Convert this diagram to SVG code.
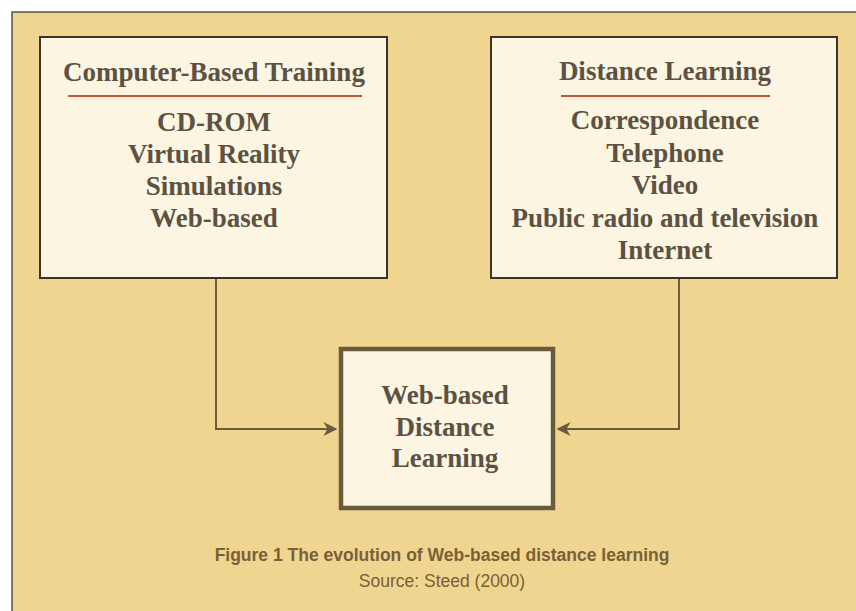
<svg xmlns="http://www.w3.org/2000/svg" width="856" height="611" viewBox="0 0 856 611">
<style>
.box{fill:#fcf5e1;stroke:#3a3328;stroke-width:2}
.ctr{fill:#fcf5e1;stroke:#6b5b3e;stroke-width:4.5}
.t{font-family:"Liberation Serif","Times New Roman",serif;font-weight:bold;font-size:27px;fill:#5b5244;text-anchor:middle}
.rule{stroke:#c0583a;stroke-width:2}
.conn{fill:none;stroke:#6b5b3e;stroke-width:2}
.cap{font-family:"Liberation Sans",Arial,sans-serif;font-size:17.5px;fill:#7a6036;text-anchor:middle}
</style>
<defs>
<marker id="arr" viewBox="0 0 10 10" refX="9" refY="5" markerWidth="7" markerHeight="7" orient="auto">
<path d="M0,0 L10,5 L0,10 L3,5 Z" fill="#6b5b3e"/>
</marker>
</defs>
<rect x="0" y="0" width="856" height="611" fill="#ffffff"/>
<rect x="12" y="12" width="850" height="605" fill="#f0d591" stroke="#55504a" stroke-width="1.5"/>
<g id="connectors">
<path class="conn" d="M216,278 V429 H336" marker-end="url(#arr)"/>
<path class="conn" d="M679,278 V429 H558" marker-end="url(#arr)"/>
</g>
<g id="cbt">
<rect class="box" x="40" y="37" width="347" height="241"/>
<text class="t" x="214" y="81">Computer-Based Training</text>
<line class="rule" x1="68" y1="96" x2="362" y2="96"/>
<text class="t" x="214" y="131">CD-ROM</text>
<text class="t" x="214" y="163">Virtual Reality</text>
<text class="t" x="214" y="195">Simulations</text>
<text class="t" x="214" y="227">Web-based</text>
</g>
<g id="dl">
<rect class="box" x="491" y="37" width="346" height="241"/>
<text class="t" x="665" y="80">Distance Learning</text>
<line class="rule" x1="561" y1="96" x2="770" y2="96"/>
<text class="t" x="665" y="129">Correspondence</text>
<text class="t" x="665" y="162">Telephone</text>
<text class="t" x="665" y="194">Video</text>
<text class="t" x="665" y="227">Public radio and television</text>
<text class="t" x="665" y="259">Internet</text>
</g>
<g id="wbdl">
<rect class="ctr" x="341" y="349" width="212" height="159"/>
<text class="t" x="445" y="404">Web-based</text>
<text class="t" x="445" y="436">Distance</text>
<text class="t" x="445" y="467">Learning</text>
</g>
<g id="caption">
<text class="cap" x="442" y="561" font-weight="bold">Figure 1 The evolution of Web-based distance learning</text>
<text class="cap" x="442" y="587">Source: Steed (2000)</text>
</g>
</svg>
